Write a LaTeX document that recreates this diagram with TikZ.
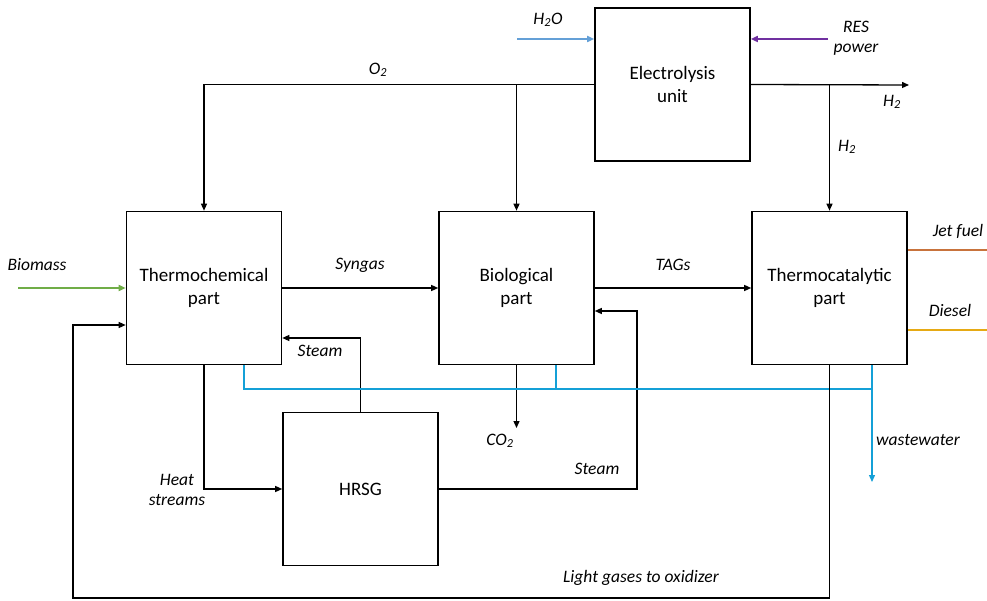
\documentclass[tikz,border=0pt]{standalone}
\usepackage{fontspec}
\setmainfont{Carlito}
\usetikzlibrary{arrows.meta}
\definecolor{cgreen}{RGB}{112,173,71}
\definecolor{cwater}{RGB}{100,160,215}
\definecolor{cpurple}{RGB}{112,48,160}
\definecolor{cjet}{RGB}{200,115,60}
\definecolor{cdiesel}{RGB}{230,170,20}
\definecolor{cww}{RGB}{20,160,215}
\tikzset{
  box/.style={draw, line width=1.6pt, minimum width=155pt, minimum height=153pt, align=center, inner sep=0pt, font=\fontsize{19}{23}\selectfont},
  lab/.style={font=\fontsize{17.5}{20}\selectfont\itshape, align=center, inner sep=0pt},
  ln/.style={line width=1.3pt},
  arr/.style={line width=1.3pt, -{Triangle[length=7pt,width=6pt]}},
}
\begin{document}
\begin{tikzpicture}[x=1pt,y=-1pt]
\useasboundingbox (0,0) rectangle (987,601);
% boxes
\node[box] (elec) at (672.5,84.5) {Electrolysis\\unit};
\node[box] (thermo) at (204,288) {Thermochemical\\part};
\node[box] (bio) at (516.5,288) {Biological\\part};
\node[box] (cat) at (829.5,288) {Thermocatalytic\\part};
\node[box] (hrsg) at (360.5,489) {HRSG};
% coordinates
\coordinate (h2os) at (517,39);
\coordinate (ress) at (828,39);
\coordinate (h2end) at (909,85);
\coordinate (bms) at (18,288);
\coordinate (jetend) at (987,250);
\coordinate (dslend) at (987,330);
\coordinate (st1) at (360.5,338);
\coordinate (st2a) at (637,489);
\coordinate (st2b) at (637,311);
\coordinate (co2end) at (516.5,428);
\coordinate (wwj) at (872,389);
\coordinate (wwend) at (872,482);
\coordinate (lg1) at (829.5,598);
\coordinate (lg2) at (73,598);
\coordinate (lg3) at (73,325);
% O2
\draw[arr] (elec.west) -| (thermo.north);
\draw[arr] (elec.west -| bio.north) -- (bio.north);
% H2
\draw[arr] (elec.east) -- (h2end);
\draw[arr] (elec.east -| cat.north) -- (cat.north);
% inputs
\draw[arr, cwater, line width=1.6pt] (h2os) -- (elec.west |- h2os);
\draw[arr, cpurple, line width=1.6pt] (ress) -- (elec.east |- ress);
\draw[arr, cgreen, line width=1.6pt] (bms) -- (thermo.west |- bms);
% main flow
\draw[arr] (thermo.east) -- (bio.west);
\draw[arr] (bio.east) -- (cat.west);
% products
\draw[ln, cjet, line width=1.6pt] (cat.east |- jetend) -- (jetend);
\draw[ln, cdiesel, line width=1.6pt] (cat.east |- dslend) -- (dslend);
% steam
\draw[arr] (hrsg.north) -- (st1) -- (thermo.east |- st1);
\draw[arr] (hrsg.east) -- (st2a) -- (st2b) -- (bio.east |- st2b);
% heat streams
\draw[arr] (thermo.south) |- (hrsg.west);
% CO2
\draw[arr] (bio.south) -- (co2end);
% wastewater
\draw[ln, cww] ([xshift=40pt]thermo.south) |- (wwj);
\draw[ln, cww] ([xshift=39.5pt]bio.south) -- ([xshift=39.5pt]bio.south |- wwj);
\draw[arr, cww] ([xshift=42.5pt]cat.south) -- (wwend);
% light gases
\draw[arr] (cat.south) -- (lg1) -- (lg2) -- (lg3) -- (thermo.west |- lg3);
% labels
\node[lab] (lo2) at (378,70) {O\textsubscript{2}};
\node[lab] (lh2a) at (892,102) {H\textsubscript{2}};
\node[lab] (lh2b) at (847,147) {H\textsubscript{2}};
\node[lab] (lh2o) at (548,20) {H\textsubscript{2}O};
\node[lab] (lres) at (856,38) {RES\\power};
\node[lab] (lbm) at (37,265) {Biomass};
\node[lab] (lsyn) at (360,265) {Syngas};
\node[lab] (ltag) at (673,265) {TAGs};
\node[lab] (ljet) at (958,231) {Jet fuel};
\node[lab] (ldsl) at (950,310) {Diesel};
\node[lab] (lst1) at (320,351) {Steam};
\node[lab] (lst2) at (597,469) {Steam};
\node[lab] (lco2) at (500,441) {CO\textsubscript{2}};
\node[lab] (lheat) at (177,490) {Heat\\streams};
\node[lab] (lww) at (918,440) {wastewater};
\node[lab] (llg) at (641,578) {Light gases to oxidizer};
\end{tikzpicture}
\end{document}
